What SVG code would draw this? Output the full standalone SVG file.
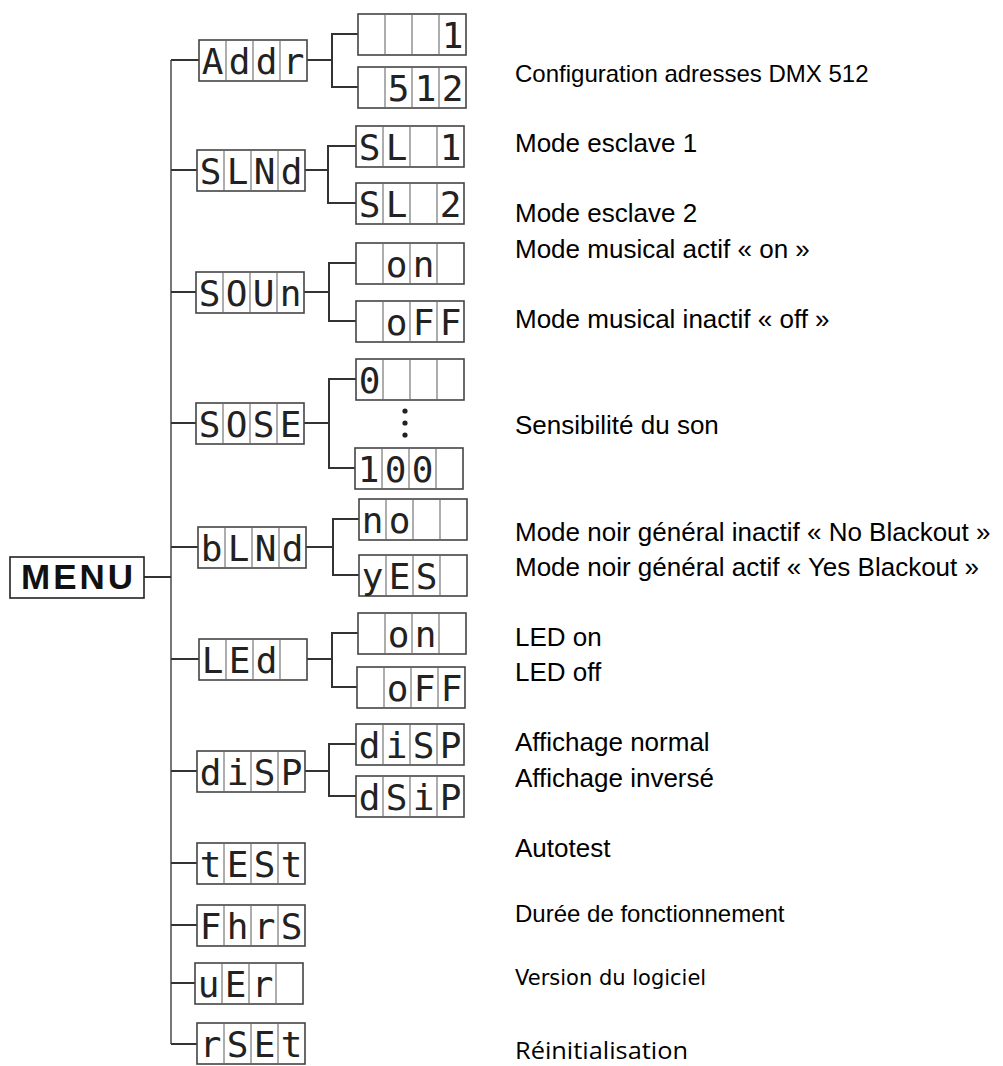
<svg xmlns="http://www.w3.org/2000/svg" xmlns:xlink="http://www.w3.org/1999/xlink" width="1003" height="1066" viewBox="0 0 1003 1066">
<style>
.frame{fill:#fff;stroke:#444;stroke-width:1.6}
.div{fill:none;stroke:#999;stroke-width:1.6}
.seg{font-family:"DejaVu Sans Mono",monospace;font-size:36px;fill:#222;text-anchor:middle}
.cap{font-family:"Liberation Sans",Arial,sans-serif;font-size:26px;fill:#000}
.conn{fill:none;stroke:#333;stroke-width:2}
.trunk{fill:none;stroke:#777;stroke-width:2}
.menu{font-family:"Liberation Sans",Arial,sans-serif;font-size:35px;font-weight:bold;fill:#111;letter-spacing:3px}
</style>
<defs>
<g id="lcd"><rect class="frame" x="0" y="0" width="108" height="41"/><path class="div" d="M27,1V40M54,1V40M81,1V40"/></g>
</defs>
<rect width="1003" height="1066" fill="#fff"/>

<g id="connectors">
<path class="trunk" d="M171,60V1044"/>
<path class="conn" d="M144,577H171"/>
<path class="conn" d="M171,60H199M171,170H197M171,292H196M171,423H196M171,547H198M171,659H199M171,771H197M171,863H197M171,925H197M171,983H195M171,1044H197"/>
<path class="conn" d="M307,60H332M358,34H332V87H358"/>
<path class="conn" d="M303,170H328M356,146H328V203H356"/>
<path class="conn" d="M303,292H329M356,263H329V321H356"/>
<path class="conn" d="M303,423H329M356,379H329V468H355"/>
<path class="conn" d="M306,547H333M359,519H333V575H359"/>
<path class="conn" d="M306,659H332M358,633H332V687H357"/>
<path class="conn" d="M304,771H329M356,744H329V796H356"/>
</g>

<g id="menu">
<rect x="10" y="557" width="134" height="41" fill="#fff" stroke="#222" stroke-width="1.6"/>
<text class="menu" x="21" y="589">MENU</text>
</g>

<g id="addr"><use xlink:href="#lcd" x="199" y="40"/><text class="seg" x="212.5 239.5 266.5 293.5" y="74">Addr</text></g>
<g id="slnd"><use xlink:href="#lcd" x="197" y="150"/><text class="seg" x="210.5 237.5 264.5 291.5" y="184">SLNd</text></g>
<g id="soun"><use xlink:href="#lcd" x="196" y="272"/><text class="seg" x="209.5 236.5 263.5 290.5" y="306">SOUn</text></g>
<g id="sose"><use xlink:href="#lcd" x="196" y="403"/><text class="seg" x="209.5 236.5 263.5 290.5" y="437">SOSE</text></g>
<g id="blnd"><use xlink:href="#lcd" x="198" y="527"/><text class="seg" x="211.5 238.5 265.5 292.5" y="561">bLNd</text></g>
<g id="led"><use xlink:href="#lcd" x="199" y="639"/><text class="seg" x="212.5 239.5 266.5" y="673">LEd</text></g>
<g id="disp"><use xlink:href="#lcd" x="197" y="751"/><text class="seg" x="210.5 237.5 264.5 291.5" y="785">diSP</text></g>
<g id="test"><use xlink:href="#lcd" x="197" y="843"/><text class="seg" x="210.5 237.5 264.5 291.5" y="877">tESt</text></g>
<g id="fhrs"><use xlink:href="#lcd" x="197" y="905"/><text class="seg" x="210.5 237.5 264.5 291.5" y="939">FhrS</text></g>
<g id="ver"><use xlink:href="#lcd" x="195" y="963"/><text class="seg" x="208.5 235.5 262.5" y="997">uEr</text></g>
<g id="rset"><use xlink:href="#lcd" x="197" y="1023"/><text class="seg" x="210.5 237.5 264.5 291.5" y="1057">rSEt</text></g>

<g id="addr-1"><use xlink:href="#lcd" x="358" y="14"/><text class="seg" x="452.5" y="48">1</text></g>
<g id="addr-512"><use xlink:href="#lcd" x="358" y="67"/><text class="seg" x="398.5 425.5 452.5" y="101">512</text></g>
<g id="sl1"><use xlink:href="#lcd" x="356" y="126"/><text class="seg" x="369.5 396.5 450.5" y="160">SL1</text></g>
<g id="sl2"><use xlink:href="#lcd" x="356" y="183"/><text class="seg" x="369.5 396.5 450.5" y="217">SL2</text></g>
<g id="soun-on"><use xlink:href="#lcd" x="356" y="243"/><text class="seg" x="396.5 423.5" y="277">on</text></g>
<g id="soun-off"><use xlink:href="#lcd" x="356" y="301"/><text class="seg" x="396.5 423.5 450.5" y="335">oFF</text></g>
<g id="sose-0"><use xlink:href="#lcd" x="356" y="359"/><text class="seg" x="369.5" y="393">0</text></g>
<g id="sose-dots"><circle cx="405" cy="411" r="2.6" fill="#222"/><circle cx="405" cy="423" r="2.6" fill="#222"/><circle cx="405" cy="435" r="2.6" fill="#222"/></g>
<g id="sose-100"><use xlink:href="#lcd" x="355" y="448"/><text class="seg" x="368.5 395.5 422.5" y="482">100</text></g>
<g id="blnd-no"><use xlink:href="#lcd" x="359" y="499"/><text class="seg" x="372.5 399.5" y="533">no</text></g>
<g id="blnd-yes"><use xlink:href="#lcd" x="359" y="555"/><text class="seg" x="372.5 399.5 426.5" y="589">yES</text></g>
<g id="led-on"><use xlink:href="#lcd" x="358" y="613"/><text class="seg" x="398.5 425.5" y="647">on</text></g>
<g id="led-off"><use xlink:href="#lcd" x="357" y="667"/><text class="seg" x="397.5 424.5 451.5" y="701">oFF</text></g>
<g id="disp-normal"><use xlink:href="#lcd" x="356" y="724"/><text class="seg" x="369.5 396.5 423.5 450.5" y="758">diSP</text></g>
<g id="disp-inv"><use xlink:href="#lcd" x="356" y="776"/><text class="seg" x="369.5 396.5 423.5 450.5" y="810">dSiP</text></g>

<g id="labels">
<text class="cap" x="515" y="82" style="font-size:24px">Configuration adresses DMX 512</text>
<text class="cap" x="515" y="152">Mode esclave 1</text>
<text class="cap" x="515" y="222">Mode esclave 2</text>
<text class="cap" x="515" y="258">Mode musical actif « on »</text>
<text class="cap" x="515" y="328">Mode musical inactif « off »</text>
<text class="cap" x="515" y="434">Sensibilité du son</text>
<text class="cap" x="515" y="541">Mode noir général inactif « No Blackout »</text>
<text class="cap" x="515" y="576">Mode noir général actif « Yes Blackout »</text>
<text class="cap" x="515" y="646">LED on</text>
<text class="cap" x="515" y="681">LED off</text>
<text class="cap" x="515" y="751">Affichage normal</text>
<text class="cap" x="515" y="787">Affichage inversé</text>
<text class="cap" x="515" y="857">Autotest</text>
<text class="cap" x="515" y="922" style="font-size:24px">Durée de fonctionnement</text>
<text x="515" y="985" style="font-family:'DejaVu Sans',sans-serif;font-size:21px;fill:#000">Version du logiciel</text>
<text x="515" y="1059" style="font-family:'Open Sans',sans-serif;font-size:23px;fill:#000" textLength="173" lengthAdjust="spacingAndGlyphs">Réinitialisation</text>
</g>
</svg>
